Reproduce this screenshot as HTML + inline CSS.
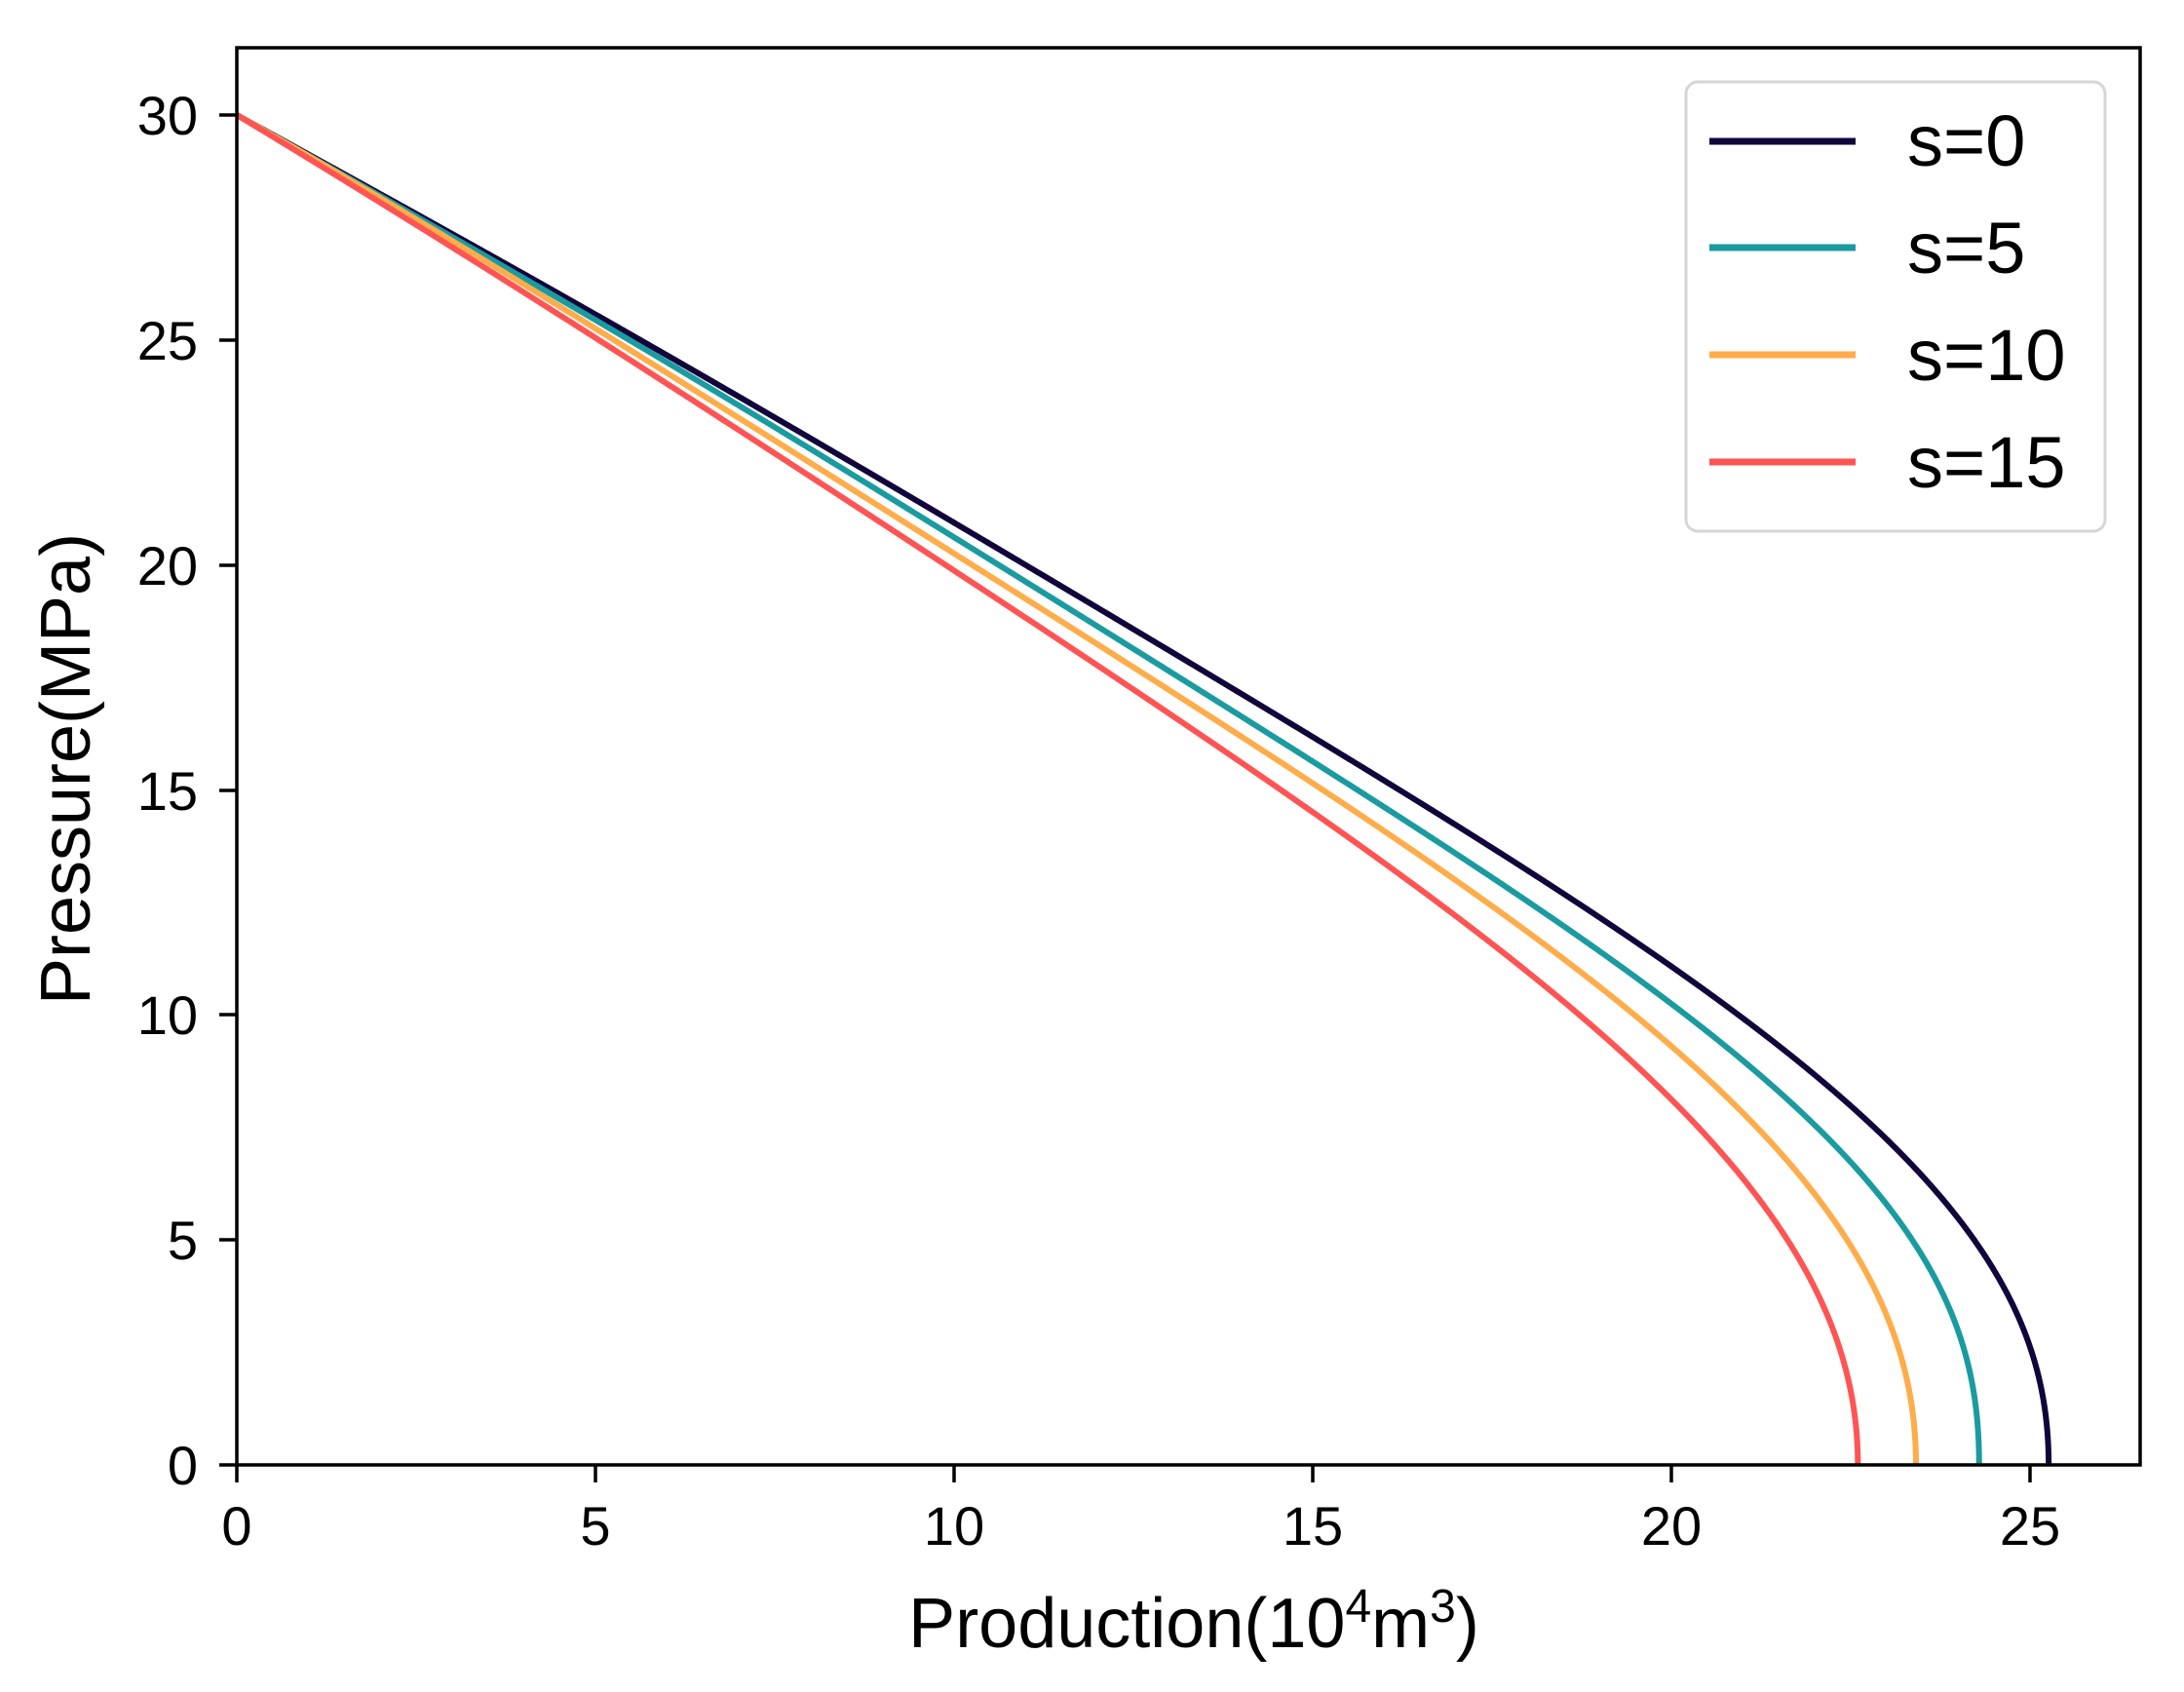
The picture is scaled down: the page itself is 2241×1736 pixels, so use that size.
<!DOCTYPE html>
<html><head><meta charset="utf-8"><style>
html,body{margin:0;padding:0;background:#fff;}
svg{display:block;}
text{font-family:"Liberation Sans",sans-serif;fill:#000;}
</style></head><body>
<svg id="s" width="2241" height="1736" viewBox="0 0 2241 1736" xmlns="http://www.w3.org/2000/svg">
<defs><clipPath id="c"><rect x="243" y="49" width="1953" height="1454"/></clipPath></defs>
<g id="curves" clip-path="url(#c)" fill="none" stroke-width="6" stroke-linejoin="round" stroke-linecap="butt"></g>
<rect x="243" y="49" width="1953" height="1454" fill="none" stroke="#000" stroke-width="3.5"/>
<g stroke="#000" stroke-width="3.5">
<line x1="243" y1="1503" x2="243" y2="1521"/><line x1="611" y1="1503" x2="611" y2="1521"/><line x1="979" y1="1503" x2="979" y2="1521"/><line x1="1347" y1="1503" x2="1347" y2="1521"/><line x1="1715" y1="1503" x2="1715" y2="1521"/><line x1="2083" y1="1503" x2="2083" y2="1521"/>
<line x1="225" y1="1503" x2="243" y2="1503"/><line x1="225" y1="1272" x2="243" y2="1272"/><line x1="225" y1="1041" x2="243" y2="1041"/><line x1="225" y1="811" x2="243" y2="811"/><line x1="225" y1="580" x2="243" y2="580"/><line x1="225" y1="349" x2="243" y2="349"/><line x1="225" y1="118" x2="243" y2="118"/>
</g>
<g font-size="56" text-anchor="middle">
<text x="243" y="1585">0</text><text x="611" y="1585">5</text><text x="979" y="1585">10</text><text x="1347" y="1585">15</text><text x="1715" y="1585">20</text><text x="2083" y="1585">25</text>
</g>
<g font-size="56" text-anchor="end">
<text x="203" y="1523">0</text><text x="203" y="1292">5</text><text x="203" y="1061">10</text><text x="203" y="831">15</text><text x="203" y="600">20</text><text x="203" y="369">25</text><text x="203" y="138">30</text>
</g>
<text x="1225" y="1690" font-size="72" text-anchor="middle">Production(10<tspan font-size="48" dy="-26">4</tspan><tspan dy="26">m</tspan><tspan font-size="48" dy="-26">3</tspan><tspan dy="26">)</tspan></text>
<text transform="translate(92,789) rotate(-90)" font-size="72" text-anchor="middle">Pressure(MPa)</text>
<rect x="1730" y="84" width="430" height="461" rx="12" fill="#fff" fill-opacity="0.9" stroke="#d6d6d6" stroke-width="3"/>
<g stroke-width="7">
<line x1="1754" y1="145" x2="1904" y2="145" stroke="#12053b"/>
<line x1="1754" y1="254" x2="1904" y2="254" stroke="#1a9ba0"/>
<line x1="1754" y1="364" x2="1904" y2="364" stroke="#ffac4a"/>
<line x1="1754" y1="474" x2="1904" y2="474" stroke="#ff5454"/>
</g>
<g font-size="74">
<text x="1957" y="170">s=0</text><text x="1957" y="280">s=5</text><text x="1957" y="390">s=10</text><text x="1957" y="500">s=15</text>
</g>
</svg>
<script>
var X=function(q){return 243+73.6*q;},Y=function(p){return 1503-46.17*p;};
var data=[
["#12053b",[[0,30],[3.05,27.29],[6.11,24.58],[11.64,19.40],[15.72,15.42],[19.80,11.36],[22.51,8.01],[23.74,5.85],[24.73,3.68],[25.2,1.15],[25.26,0]]],
["#1a9ba0",[[0,30],[3.05,27.22],[6.11,24.43],[11.64,18.95],[15.72,14.93],[19.80,10.49],[21.70,8.01],[22.92,5.85],[23.87,3.68],[24.26,1.15],[24.29,0]]],
["#ffac4a",[[0,30],[3.05,27.11],[6.11,24.22],[11.64,18.53],[15.72,14.43],[19.80,9.62],[20.84,8.01],[22.06,5.85],[22.92,3.68],[23.37,1.15],[23.41,0]]],
["#ff5454",[[0,30],[3.05,26.98],[6.11,23.96],[11.64,18.08],[15.72,13.77],[19.55,8.73],[21.29,5.85],[22.06,3.68],[22.55,1.15],[22.60,0]]]
];
var pw=[0,2,3,4,5,6];
function solve(A,b){var n=b.length;for(var i=0;i<n;i++){var mx=i;for(var r=i+1;r<n;r++)if(Math.abs(A[r][i])>Math.abs(A[mx][i]))mx=r;var t=A[i];A[i]=A[mx];A[mx]=t;t=b[i];b[i]=b[mx];b[mx]=t;for(var r=i+1;r<n;r++){var f=A[r][i]/A[i][i];for(var c=i;c<n;c++)A[r][c]-=f*A[i][c];b[r]-=f*b[i];}}var x=[];for(var i=n-1;i>=0;i--){var s=b[i];for(var c=i+1;c<n;c++)s-=A[i][c]*x[c];x[i]=s/A[i][i];}return x;}
var g=document.getElementById('curves');
data.forEach(function(d){
 var k=pw.length,A=[],b=[];
 for(var i=0;i<k;i++){A.push(new Array(k).fill(0));b.push(0);}
 d[1].forEach(function(pt){
  var P=pt[1]/30,Q=pt[0],w=(pt[1]==0||pt[1]==30)?100:1;
  var f=pw.map(function(e){return Math.pow(P,e);});
  for(var i=0;i<k;i++){for(var j=0;j<k;j++)A[i][j]+=w*f[i]*f[j];b[i]+=w*f[i]*Q;}
 });
 var c=solve(A,b);
 var s='';
 for(var i=0;i<=600;i++){
  var p=30*i/600,P=p/30,q=0;
  for(var j=0;j<k;j++)q+=c[j]*Math.pow(P,pw[j]);
  if(i==600)q=0;
  s+=(s?' L':'M')+X(q).toFixed(2)+','+Y(p).toFixed(2);
 }
 var e=document.createElementNS('http://www.w3.org/2000/svg','path');
 e.setAttribute('d',s);e.setAttribute('stroke',d[0]);g.appendChild(e);
});
</script>
</body></html>
